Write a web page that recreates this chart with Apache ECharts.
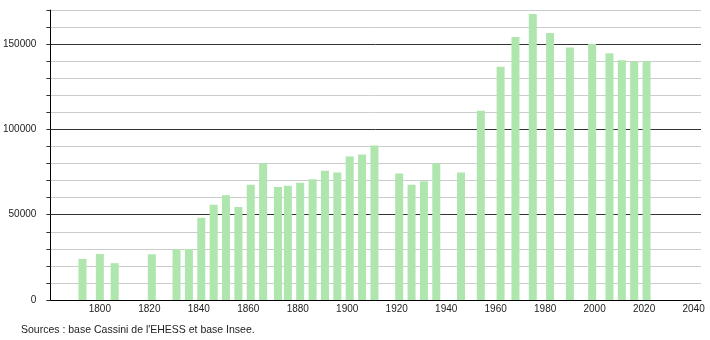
<!DOCTYPE html>
<html><head><meta charset="utf-8">
<script src="https://cdn.jsdelivr.net/npm/echarts@6/dist/echarts.min.js"></script>
<style>html,body{margin:0;padding:0;background:#fff}#c{width:710px;height:340px}</style>
</head><body><div id="c"></div>
<script>
const years = [1793,1800,1806,1821,1831,1836,1841,1846,1851,1856,1861,1866,1872,1876,1881,1886,1891,1896,1901,1906,1911,1921,1926,1931,1936,1946,1954,1962,1968,1975,1982,1990,1999,2006,2011,2016,2021];
const population = [24100,27000,21600,26800,29800,29800,48200,55900,61400,54500,67600,80000,66300,67000,68800,70800,75700,74700,84100,85300,90600,74100,67600,69600,80000,74700,111000,136700,154100,167600,156500,148000,150000,144700,140600,139800,140000];
const sourceText = "Sources : base Cassini de l'EHESS et base Insee.";

const chart = echarts.init(document.getElementById('c'), null, {renderer:'canvas'});
const font = 'Liberation Sans, Arial, sans-serif';
chart.setOption({
  animation:false,
  grid:{left:50,right:9,top:10,bottom:40,containLabel:false},
  xAxis:{type:'value',min:1780,max:2043,interval:20,
    axisLine:{show:true,lineStyle:{color:'#000',width:1}},
    axisTick:{show:false},splitLine:{show:false},
    axisLabel:{fontFamily:font,fontSize:10,color:'#222',margin:4,
      formatter:v=>(v%20===0&&v>1780)?String(v):''}},
  yAxis:{type:'value',min:0,max:170000,interval:10000,
    axisLine:{show:true,lineStyle:{color:'#000',width:1}},
    axisTick:{show:true,length:4,lineStyle:{color:'#333'}},
    splitLine:{show:true,lineStyle:{color:['#333','#ccc','#ccc','#ccc','#ccc'],width:1}},
    axisLabel:{fontFamily:font,fontSize:10,color:'#222',margin:14,
      formatter:v=>(v%50000===0)?String(v):''}},
  series:[{type:'bar',barWidth:8,itemStyle:{color:'#aee6ae'},
    data:years.map((y,i)=>[y,population[i]])}],
  graphic:[{type:'text',left:21,top:325,style:{text:sourceText,font:'10.5px '+font,fill:'#222'}}]
});
</script></body></html>
